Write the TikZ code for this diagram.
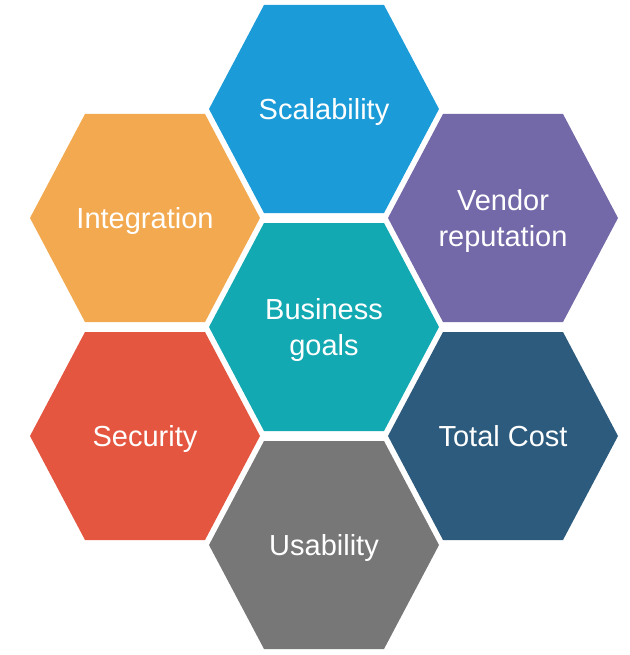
\documentclass[tikz,border=0pt]{standalone}
\usepackage{fontspec}
\setmainfont{Liberation Sans}
\usepackage{tikz}

\definecolor{scalblue}{HTML}{1B9BD7}
\definecolor{integorange}{HTML}{F2A94F}
\definecolor{vendpurple}{HTML}{7369A8}
\definecolor{goalteal}{HTML}{13A9B2}
\definecolor{securred}{HTML}{E55640}
\definecolor{costblue}{HTML}{2D5B7D}
\definecolor{usegray}{HTML}{777777}

% one cell of the honeycomb, centred on a named coordinate
\newcommand{\hexcell}[2]{\fill[#1] (#2) ++(-115,0) -- ++(55,-104) -- ++(120,0) -- ++(55,104) -- ++(-55,104) -- ++(-120,0) -- cycle;}

\begin{document}
\begin{tikzpicture}[x=1pt,y=-1pt]
	\useasboundingbox (0,0) rectangle (629,655);

		\coordinate (c1) at (324,327);
		\coordinate (c2) at (324,109);
		\coordinate (c3) at (145,218);
		\coordinate (c4) at (503,218);
		\coordinate (c5) at (145,436);
		\coordinate (c6) at (503,436);
		\coordinate (c7) at (324,545);

		\hexcell{goalteal}{c1}
		\hexcell{scalblue}{c2}
		\hexcell{integorange}{c3}
		\hexcell{vendpurple}{c4}
		\hexcell{securred}{c5}
		\hexcell{costblue}{c6}
		\hexcell{usegray}{c7}

	\begin{scope}[every node/.style={text=white,align=center,text depth=0pt,
              font=\fontsize{29}{36}\selectfont}]
		\node (1) at (c1) {Business\\goals};
		\node (2) at (c2) {Scalability};
		\node (3) at (c3) {Integration};
		\node (4) at (c4) {Vendor\\reputation};
		\node (5) at (c5) {Security};
		\node (6) at (c6) {Total Cost};
		\node (7) at (c7) {Usability};
	\end{scope}
\end{tikzpicture}
\end{document}
